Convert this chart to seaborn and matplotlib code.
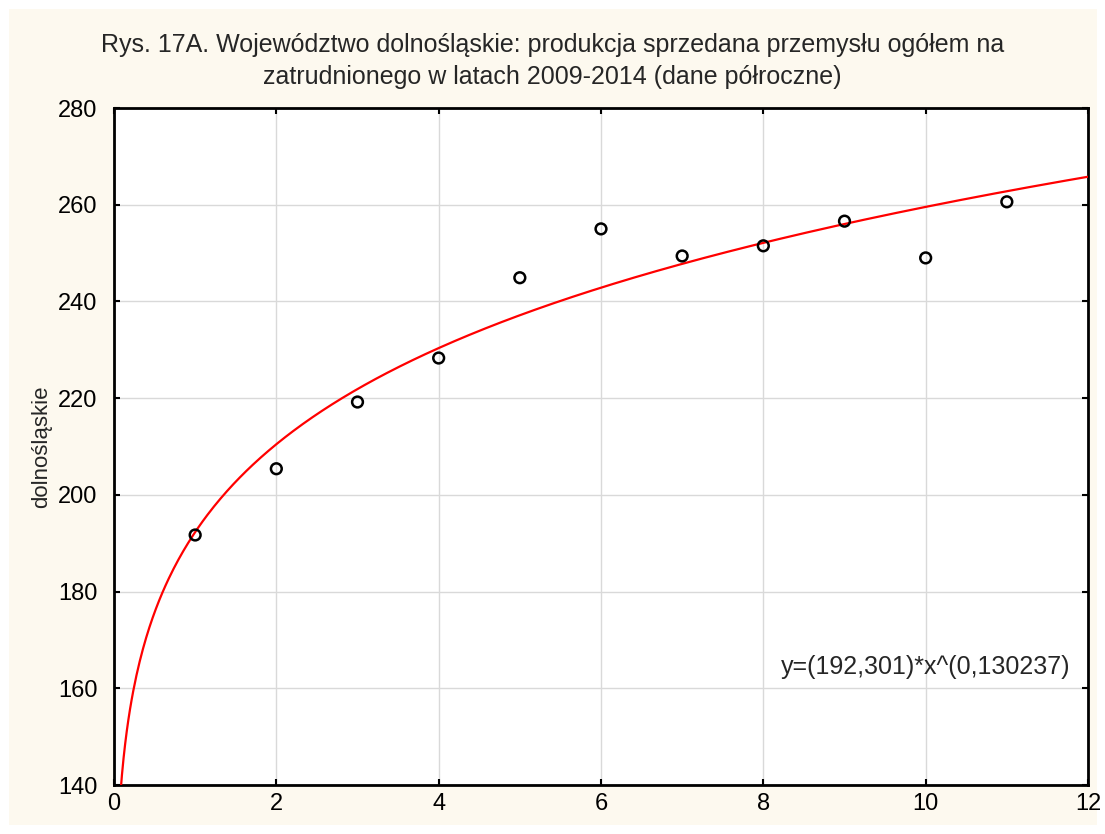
import numpy as np
import pandas as pd
import matplotlib
matplotlib.use("Agg")
import matplotlib.pyplot as plt
import seaborn as sns
from matplotlib.patches import Rectangle

# Data
x_vals = [1, 2, 3, 4, 5, 6, 7, 8, 9, 10, 11]
y_vals = [191.7, 205.4, 219.2, 228.3, 244.9, 255.0, 249.4, 251.5, 256.6, 249.0, 260.6]
fit_a = 192.301
fit_b = 0.130237
x_ticks = [0, 2, 4, 6, 8, 10, 12]
y_ticks = [140, 160, 180, 200, 220, 240, 260, 280]
title = ("Rys. 17A. Województwo dolnośląskie: produkcja sprzedana przemysłu ogółem na\n"
         "zatrudnionego w latach 2009-2014 (dane półroczne)")
ylabel = "dolnośląskie"
equation = "y=(192,301)*x^(0,130237)"

sns.set_theme(style="white")
plt.rcParams['font.family'] = ['Liberation Sans', 'DejaVu Sans']

fig = plt.figure(figsize=(11.05, 8.34), dpi=100, facecolor="white")
fig.patches.append(Rectangle((9/1105, 9/834), 1088/1105, 816/834, transform=fig.transFigure,
                             facecolor="#fdf9ef", edgecolor="none", zorder=-10))
ax = fig.add_axes([114/1105, 1 - 785/834, (1088-114)/1105, (785-108)/834])
ax.set_facecolor("white")

df = pd.DataFrame({"x": x_vals, "y": y_vals})
xs = np.linspace(0.078, 12, 600)
curve = pd.DataFrame({"x": xs, "y": fit_a * xs ** fit_b})

ax.grid(True, color="#d9d9d9", linewidth=1)
ax.set_axisbelow(True)
sns.lineplot(data=curve, x="x", y="y", ax=ax, color="#ff0000", linewidth=1.6, zorder=3)
sns.scatterplot(data=df, x="x", y="y", ax=ax, marker="o", s=60, facecolor="none",
                edgecolor="black", linewidth=1.8, zorder=4)

ax.set_xlim(0, 12)
ax.set_ylim(140, 280)
ax.set_xticks(x_ticks)
ax.set_yticks(y_ticks)
ax.tick_params(direction="in", length=4, width=1.5, labelsize=17, colors="black",
               top=True, right=True, bottom=True, left=True, pad=6)
ax.tick_params(axis="y", pad=12)
for s in ax.spines.values():
    s.set_visible(True)
    s.set_color("black")
    s.set_linewidth(2)
ax.set_xlabel("")
ax.set_ylabel(ylabel, fontsize=16, labelpad=4)
fig.text(0.5, 1 - 61/834, title, ha="center", va="center", fontsize=18, linespacing=1.4)
ax.text(1 - 18/974, 1 - (667-108)/677, equation, transform=ax.transAxes, ha="right",
        va="center", fontsize=18)

fig.savefig("out.png", dpi=100, facecolor=fig.get_facecolor())
